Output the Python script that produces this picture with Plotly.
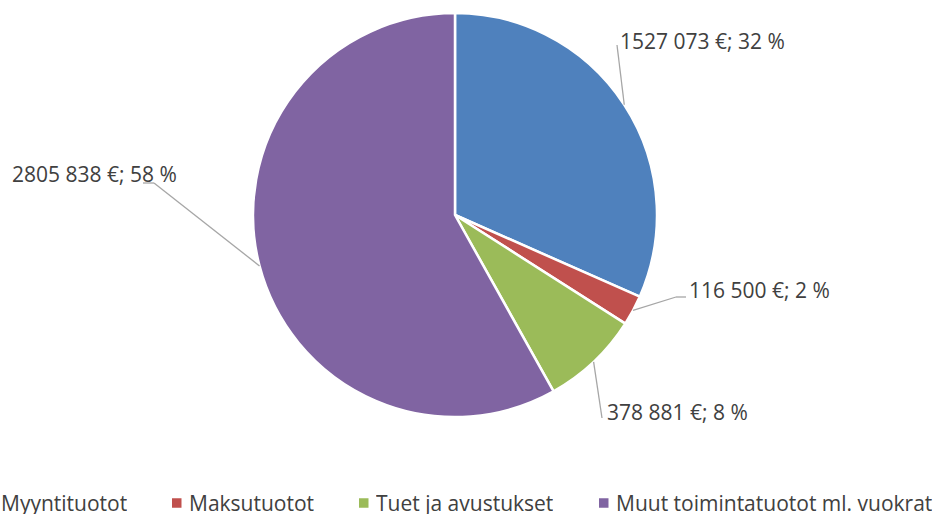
import math
import plotly.graph_objects as go

labels = ["Myyntituotot", "Maksutuotot", "Tuet ja avustukset", "Muut toimintatuotot ml. vuokrat"]
values = [1527073, 116500, 378881, 2805838]
value_texts = ["1527 073 €", "116 500 €", "378 881 €", "2805 838 €"]
pct_texts = ["32 %", "2 %", "8 %", "58 %"]
colors = ["#4F81BD", "#C0504D", "#9BBB59", "#8064A2"]

W, H = 941, 516
CX, CY, R = 455, 215, 202        # pixels
FONT = "Open Sans"
FS = 21
TXT = "#404040"

def px(x):
    return x / W

def py(y):
    return 1 - y / H

fig = go.Figure(go.Pie(
    labels=labels, values=values, sort=False, direction="clockwise", rotation=0,
    marker=dict(colors=colors, line=dict(color="white", width=2.5)),
    textinfo="none", hoverinfo="label+value+percent", showlegend=False,
    domain=dict(x=[px(CX - R), px(CX + R)], y=[py(CY + R), py(CY - R)]),
))

# data-label layout per slice: elbow points (px), label anchor, xanchor
layout_spec = [
    dict(path=[(617, 45)], lab=(618, 41), xa="left"),
    dict(path=[(676, 297), (686, 297)], lab=(687, 290), xa="left"),
    dict(path=[(602, 418)], lab=(605, 412), xa="left"),
    dict(path=[(154, 183), (143, 183)], lab=(179, 174), xa="right"),
]

total = sum(values)
cum = 0
shapes = []
annotations = []
for i, v in enumerate(values):
    mid = (cum + v / 2) / total * 2 * math.pi
    cum += v
    ex = CX + R * math.sin(mid)
    ey = CY - R * math.cos(mid)
    pts = [(ex, ey)] + layout_spec[i]["path"]
    for (x0, y0), (x1, y1) in zip(pts[:-1], pts[1:]):
        shapes.append(dict(type="line", xref="paper", yref="paper",
                           x0=px(x0), y0=py(y0), x1=px(x1), y1=py(y1),
                           line=dict(color="#A6A6A6", width=1.3)))
    lx, ly = layout_spec[i]["lab"]
    annotations.append(dict(text=f"{value_texts[i]}; {pct_texts[i]}", xref="paper", yref="paper",
                            x=px(lx), y=py(ly), xanchor=layout_spec[i]["xa"], yanchor="middle",
                            showarrow=False, font=dict(family=FONT, size=FS, color=TXT)))

# legend row (px): text start x for each entry; square sits left of text
legend_text_x = [1, 189, 376, 616]
LEG_Y = 503
SQ = 9.5
for i, lab in enumerate(labels):
    tx = legend_text_x[i]
    sx = tx - 17
    shapes.append(dict(type="rect", xref="paper", yref="paper",
                       x0=px(sx), x1=px(sx + SQ), y0=py(LEG_Y + SQ / 2), y1=py(LEG_Y - SQ / 2),
                       fillcolor=colors[i], line=dict(width=0)))
    annotations.append(dict(text=lab, xref="paper", yref="paper", height=22,
                            x=px(tx - 2), y=py(LEG_Y), xanchor="left", yanchor="middle",
                            showarrow=False, font=dict(family=FONT, size=FS, color=TXT)))

fig.update_layout(
    width=W, height=H, margin=dict(l=0, r=0, t=0, b=0, pad=0, autoexpand=False),
    paper_bgcolor="white", plot_bgcolor="white",
    shapes=shapes, annotations=annotations,
    showlegend=False,
)

fig.write_html("out.html", config={"displayModeBar": False},
               post_script="document.body.style.margin='0';document.body.style.overflow='hidden';")
